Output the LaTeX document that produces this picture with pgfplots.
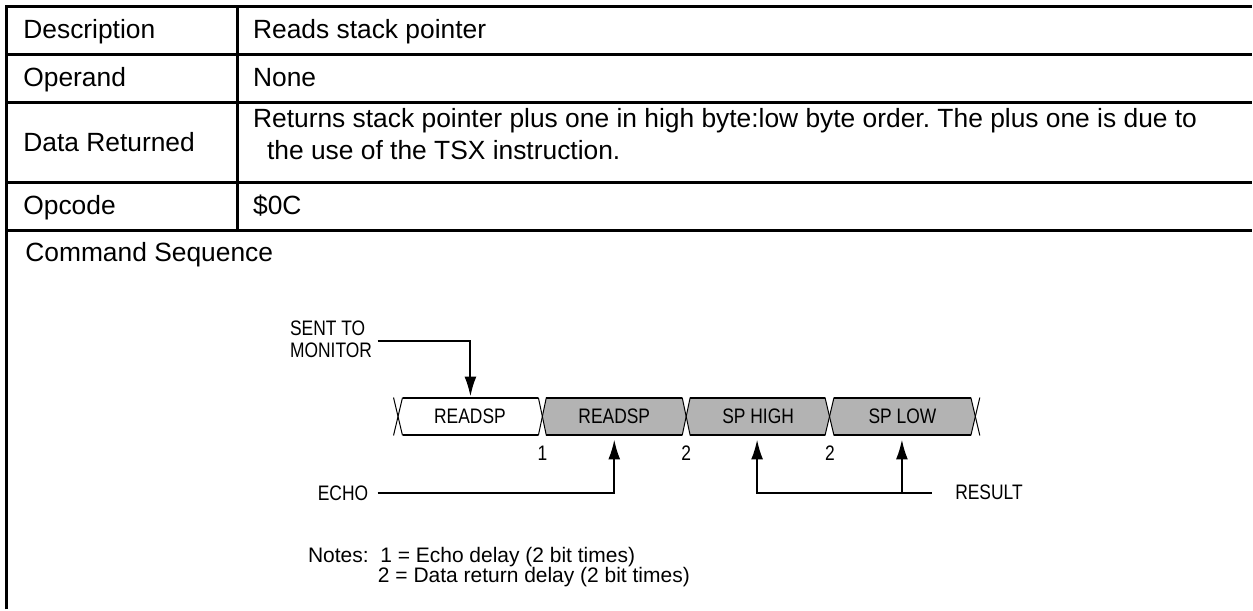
\documentclass[border=0pt]{standalone}
\usepackage{pgfplots}
\pgfplotsset{compat=1.18}
\usepackage{fontspec}
\setmainfont{Liberation Sans}
\newfontfamily\cond[FakeStretch=0.83]{Liberation Sans}
\usetikzlibrary{arrows.meta}
\definecolor{busgray}{HTML}{B3B3B3}
\frenchspacing
\tikzset{
  tab/.style={anchor=base west,inner sep=0,font=\fontsize{13.2pt}{16pt}\selectfont},
  dia/.style={inner sep=0,font=\cond\fontsize{10.5pt}{11pt}\selectfont},
  nts/.style={anchor=base west,inner sep=0,font=\fontsize{10.5pt}{12pt}\selectfont}}
\begin{document}
\begin{tikzpicture}
\begin{axis}[width=626.5pt,height=305pt,scale only axis,
  xmin=0,xmax=1253,ymin=0,ymax=610,y dir=reverse,hide axis,clip=false,
  every axis plot/.append style={mark=none}]
\path (axis cs:0,0) rectangle (axis cs:1253,610);
% ---- table grid ----
\addplot[black,line width=1.5pt] coordinates {(7,610)(7,7)(1253,7)};
\addplot[black,line width=1.5pt] coordinates {(7,55)(1253,55)};
\addplot[black,line width=1.5pt] coordinates {(7,103)(1253,103)};
\addplot[black,line width=1.5pt] coordinates {(7,183)(1253,183)};
\addplot[black,line width=1.5pt] coordinates {(7,231)(1253,231)};
\addplot[black,line width=1.5pt] coordinates {(238,7)(238,231)};
% ---- table text ----
\node[tab] at (axis cs:23,39) {Description};
\node[tab] at (axis cs:253,39) {Reads stack pointer};
\node[tab] at (axis cs:23,87) {Operand};
\node[tab] at (axis cs:253,87) {None};
\node[tab] at (axis cs:23,152) {Data Returned};
\node[tab] at (axis cs:253,128) {Returns stack pointer plus one in high byte:low byte order.\ The plus one is due to};
\node[tab] at (axis cs:267,160) {the use of the TSX instruction.};
\node[tab] at (axis cs:23,215) {Opcode};
\node[tab] at (axis cs:253,215) {\$0C};
\node[tab] at (axis cs:25,262) {Command Sequence};
% ---- bus boxes ----
\addplot[fill=white,draw=none] coordinates {(398.5,417)(403,398)(539,398)(543,417)(539,436)(403,436)} -- cycle;
\addplot[fill=busgray,draw=none] coordinates {(543,417)(547,398)(683,398)(687,417)(683,436)(547,436)} -- cycle;
\addplot[fill=busgray,draw=none] coordinates {(687,417)(691,398)(826,398)(830.5,417)(826,436)(691,436)} -- cycle;
\addplot[fill=busgray,draw=none] coordinates {(830.5,417)(835,398)(972,398)(976.5,417)(972,436)(835,436)} -- cycle;
% top / bottom edges
\addplot[black,line width=1pt] coordinates {(403,398)(539,398)};
\addplot[black,line width=1pt] coordinates {(403,436)(539,436)};
\addplot[black,line width=1pt] coordinates {(547,398)(683,398)};
\addplot[black,line width=1pt] coordinates {(547,436)(683,436)};
\addplot[black,line width=1pt] coordinates {(691,398)(826,398)};
\addplot[black,line width=1pt] coordinates {(691,436)(826,436)};
\addplot[black,line width=1pt] coordinates {(835,398)(972,398)};
\addplot[black,line width=1pt] coordinates {(835,436)(972,436)};
% crossings
\addplot[black,line width=0.5pt] coordinates {(394,398)(403,436)};
\addplot[black,line width=0.5pt] coordinates {(394,436)(403,398)};
\addplot[black,line width=0.5pt] coordinates {(539,398)(547,436)};
\addplot[black,line width=0.5pt] coordinates {(539,436)(547,398)};
\addplot[black,line width=0.5pt] coordinates {(683,398)(691,436)};
\addplot[black,line width=0.5pt] coordinates {(683,436)(691,398)};
\addplot[black,line width=0.5pt] coordinates {(826,398)(835,436)};
\addplot[black,line width=0.5pt] coordinates {(826,436)(835,398)};
\addplot[black,line width=0.5pt] coordinates {(972,398)(981,436)};
\addplot[black,line width=0.5pt] coordinates {(972,436)(981,398)};
% ---- arrows ----
\addplot[black,line width=1pt,-{Latex[length=10pt,width=6pt]}] coordinates {(378,341)(471,341)(471,397)};
\addplot[black,line width=1pt,-{Latex[length=10pt,width=6pt]}] coordinates {(378,494)(615,494)(615,440)};
\addplot[black,line width=1pt,-{Latex[length=10pt,width=6pt]}] coordinates {(933,494)(758,494)(758,440)};
\addplot[black,line width=1pt,-{Latex[length=10pt,width=6pt]}] coordinates {(903,494)(903,440)};
% ---- diagram text ----
\node[dia,anchor=west,align=left] at (axis cs:290,340) {SENT TO\\MONITOR};
\node[dia] at (axis cs:470.5,417) {READSP};
\node[dia] at (axis cs:615,417) {READSP};
\node[dia] at (axis cs:759,417) {SP HIGH};
\node[dia] at (axis cs:903.5,417) {SP LOW};
\node[dia] at (axis cs:543,454) {1};
\node[dia] at (axis cs:687,454) {2};
\node[dia] at (axis cs:831,454) {2};
\node[dia,anchor=east] at (axis cs:369,494) {ECHO};
\node[dia,anchor=west] at (axis cs:956,493) {RESULT};
\node[nts] at (axis cs:308,563) {Notes:\ \ 1 = Echo delay (2 bit times)};
\node[nts] at (axis cs:378,583) {2 = Data return delay (2 bit times)};
\end{axis}
\end{tikzpicture}
\end{document}
